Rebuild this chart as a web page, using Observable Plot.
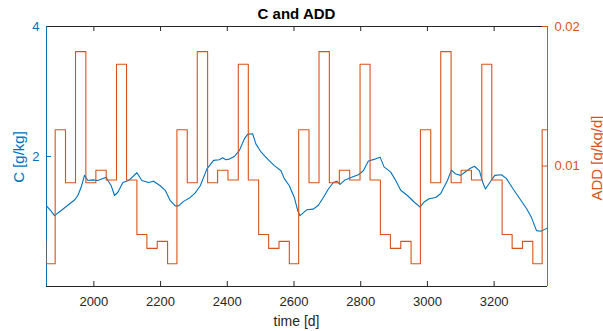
<!DOCTYPE html>
<html>
<head>
<meta charset="utf-8">
<script src="https://cdn.jsdelivr.net/npm/d3@7"></script>
<script src="https://cdn.jsdelivr.net/npm/@observablehq/plot@0.6"></script>
<style>
  html, body { margin: 0; padding: 0; background: #fff; }
  #wrap { position: relative; width: 603px; height: 331px; overflow: hidden;
          font-family: "Liberation Sans", Arial, Helvetica, sans-serif; }
  #wrap svg { position: absolute; left: 0; top: 0; }
  .lbl { position: absolute; white-space: nowrap; line-height: 1; }
  #title { left: 46px; width: 501px; top: 6px; text-align: center; font-weight: bold; font-size: 15px; color: #000; }
  #xlabel { left: 46px; width: 501px; top: 314px; text-align: center; font-size: 14px; color: #262626; }
  #ylabelL { left: 17.5px; top: 157px; font-size: 15px; color: #0072BD; transform: translate(-50%, -50%) rotate(-90deg); }
  #ylabelR { left: 596px; top: 158px; font-size: 15px; color: #D95319; transform: translate(-50%, -50%) rotate(-90deg); }
</style>
</head>
<body>
<div id="wrap">
  <div id="title" class="lbl">C and ADD</div>
  <div id="xlabel" class="lbl">time [d]</div>
  <div id="ylabelL" class="lbl">C [g/kg]</div>
  <div id="ylabelR" class="lbl">ADD [g/kg/d]</div>
</div>
<script>
// ---- data ----
const cTime = [1858,1870,1882,1902,1922,1942,1952,1962,1972,1982,
  1997,2012,2027,2037,2042,2052,2062,2072,2087,2104,
  2129,2144,2164,2179,2199,2214,2229,2244,2254,2269,
  2289,2304,2319,2339,2359,2376,2386,2396,2406,2421,
  2436,2451,2461,2476,2486,2501,2521,2541,2561,2571,
  2586,2601,2611,2618,2638,2658,2673,2688,2703,2718,
  2728,2738,2753,2773,2793,2808,2823,2843,2858,2870,
  2890,2905,2920,2940,2960,2978,2990,3005,3025,3040,
  3060,3072,3085,3100,3115,3126,3141,3156,3166,3174,
  3187,3202,3222,3237,3257,3277,3297,3312,3327,3340,
  3360];
const cValue = [1.24,1.17,1.09,1.17,1.25,1.33,1.40,1.53,1.71,1.63,
  1.64,1.63,1.66,1.68,1.63,1.55,1.40,1.45,1.60,1.63,
  1.75,1.63,1.60,1.62,1.55,1.48,1.32,1.24,1.24,1.31,
  1.37,1.44,1.55,1.81,1.94,1.95,1.98,1.95,1.96,2.00,
  2.09,2.27,2.34,2.35,2.19,2.07,1.96,1.86,1.78,1.66,
  1.55,1.37,1.17,1.09,1.18,1.19,1.25,1.37,1.50,1.60,
  1.62,1.57,1.64,1.68,1.72,1.78,1.93,1.96,1.99,1.84,
  1.76,1.63,1.48,1.40,1.30,1.22,1.30,1.35,1.37,1.43,
  1.63,1.79,1.73,1.71,1.77,1.81,1.85,1.78,1.60,1.50,
  1.60,1.71,1.72,1.66,1.50,1.35,1.20,1.06,0.86,0.85,
  0.90];

// monthly ADD (months starting in March), repeated every year
const monthDays = [31,30,31,30,31,31,30,31,30,31,31,28];
const monthAdd  = [0.0126,0.0088,0.0182,0.0088,0.0097,0.0090,0.0173,0.0090,0.0051,0.0041,0.0046,0.0030];
const yearStarts = [1519,1884,2249,2614,2979,3344,3709];

const xTicks = [2000,2200,2400,2600,2800,3000,3200];
const cTicks = [2,4];
const addTicks = [0.01,0.02];
const xDomain = [1858,3360];
const cDomain = [0,4];
const addDomain = [0.00137,0.02];

const BLUE = "#0072BD", ORANGE = "#D95319", AXIS = "#262626";

// ---- tables ----
const cData = cTime.map((t,i) => ({t, c: cValue[i]}));
const addData = [];
for (const y0 of yearStarts) {
  let t = y0;
  monthDays.forEach((d,i) => { addData.push({t, v: monthAdd[i]}); t += d; });
}

const W = 603, H = 331, mL = 46, mR = 56, mT = 26, mB = 45;
const pw = W - mL - mR;
const common = {
  width: W, height: H,
  marginLeft: mL, marginRight: mR, marginTop: mT, marginBottom: mB,
  style: {background: "transparent", overflow: "visible",
          fontFamily: '"Liberation Sans", Arial, Helvetica, sans-serif', fontSize: "13px"}
};

const plotC = Plot.plot({
  ...common,
  x: {domain: xDomain},
  y: {domain: cDomain},
  marks: [
    Plot.line(cData, {x: "t", y: "c", stroke: BLUE, strokeWidth: 1.1, clip: true}),
    Plot.tickX(xTicks, {x: d => d, stroke: AXIS, insetTop: (H - mT - mB) - 5}),
    Plot.tickX(xTicks, {x: d => d, stroke: AXIS, insetBottom: (H - mT - mB) - 5}),
    Plot.tickY(cTicks, {y: d => d, stroke: BLUE, insetRight: pw - 5}),
    Plot.ruleY(cDomain, {y: d => d, stroke: AXIS, strokeWidth: 1}),
    Plot.ruleX([xDomain[0]], {x: d => d, stroke: BLUE, strokeWidth: 1}),
    Plot.axisX({ticks: xTicks, tickSize: 0, tickPadding: 10, tickFormat: d => String(d),
                label: null, color: AXIS, fontSize: 13}),
    Plot.axisY({ticks: cTicks, tickSize: 0, tickPadding: 7, tickFormat: d => String(d),
                label: null, color: BLUE, fontSize: 13})
  ]
});

const plotA = Plot.plot({
  ...common,
  x: {domain: xDomain, axis: null},
  y: {domain: addDomain},
  marks: [
    Plot.line(addData, {x: "t", y: "v", curve: "step-after", stroke: ORANGE, strokeWidth: 1.1, clip: true}),
    Plot.tickY(addTicks, {y: d => d, stroke: ORANGE, insetLeft: pw - 5}),
    Plot.ruleX([xDomain[1]], {x: d => d, stroke: ORANGE, strokeWidth: 1}),
    Plot.axisY({anchor: "right", ticks: addTicks, tickSize: 0, tickPadding: 7,
                tickFormat: d => String(d), label: null, color: ORANGE, fontSize: 13})
  ]
});

const wrap = document.getElementById("wrap");
wrap.insertBefore(plotA, wrap.firstChild);
wrap.insertBefore(plotC, wrap.firstChild);
</script>
</body>
</html>
